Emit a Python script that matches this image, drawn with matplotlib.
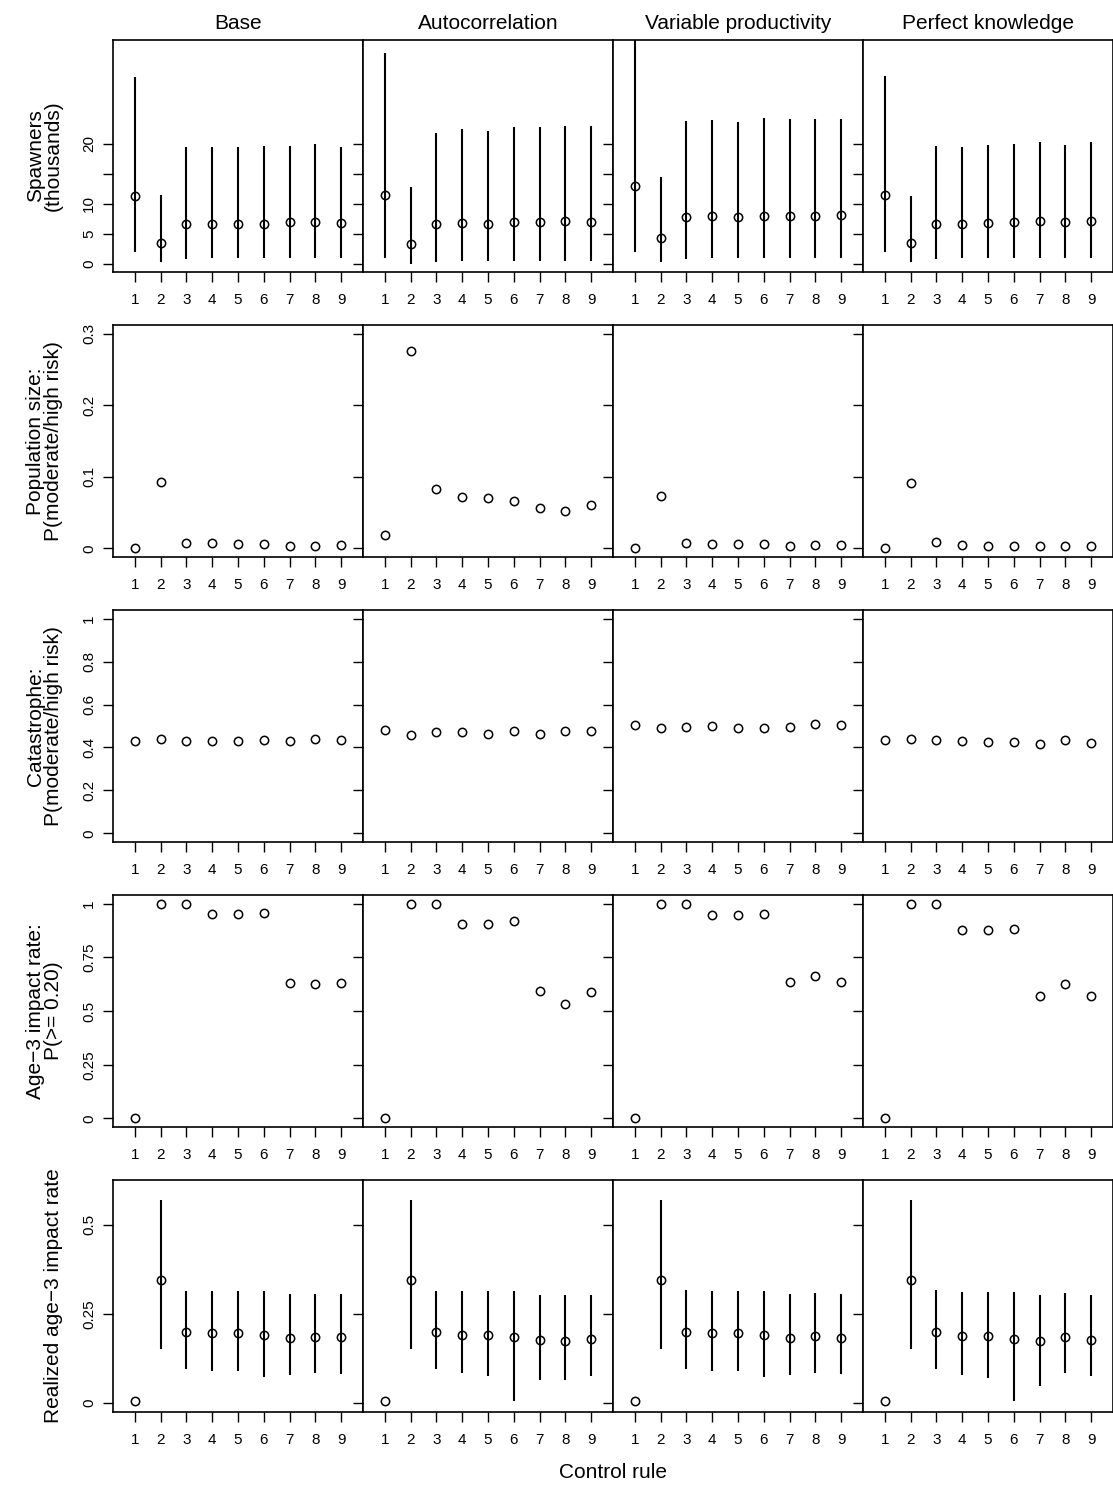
import matplotlib
matplotlib.use('Agg')
import matplotlib.pyplot as plt
import numpy as np

plt.rcParams['font.family'] = ['Liberation Sans', 'DejaVu Sans']

rules = [1, 2, 3, 4, 5, 6, 7, 8, 9]
scenarios = ['Base', 'Autocorrelation', 'Variable productivity', 'Perfect knowledge']

# spawners (thousands): median, lower, upper
spawn_med = [
    [11.3, 3.5, 6.6, 6.7, 6.7, 6.7, 6.9, 6.9, 6.8],
    [11.4, 3.3, 6.6, 6.8, 6.7, 6.9, 7.0, 7.2, 7.0],
    [12.9, 4.3, 7.8, 7.9, 7.8, 7.9, 8.0, 7.9, 8.1],
    [11.5, 3.5, 6.6, 6.7, 6.8, 6.9, 7.1, 6.9, 7.1],
]
spawn_lo = [
    [1.9, 0.3, 0.8, 0.9, 0.9, 0.9, 1.0, 0.9, 0.9],
    [0.9, 0.0, 0.3, 0.4, 0.4, 0.4, 0.4, 0.4, 0.4],
    [1.9, 0.3, 0.8, 0.9, 0.9, 0.9, 0.9, 0.9, 0.9],
    [2.0, 0.3, 0.8, 0.9, 0.9, 0.9, 1.0, 0.9, 1.0],
]
spawn_hi = [
    [31.0, 11.4, 19.4, 19.4, 19.4, 19.6, 19.6, 19.9, 19.4],
    [35.0, 12.7, 21.8, 22.4, 22.0, 22.7, 22.8, 22.9, 22.9],
    [40.0, 14.4, 23.8, 23.9, 23.5, 24.2, 24.0, 24.0, 24.0],
    [31.3, 11.3, 19.6, 19.4, 19.7, 19.9, 20.2, 19.8, 20.3],
]

pop_risk = [
    [0.0, 0.093, 0.007, 0.007, 0.006, 0.006, 0.004, 0.003, 0.005],
    [0.019, 0.276, 0.083, 0.072, 0.070, 0.066, 0.057, 0.052, 0.061],
    [0.001, 0.073, 0.008, 0.006, 0.006, 0.006, 0.004, 0.005, 0.005],
    [0.001, 0.091, 0.009, 0.005, 0.004, 0.003, 0.003, 0.004, 0.003],
]

cat_risk = [
    [0.43, 0.44, 0.43, 0.43, 0.43, 0.435, 0.43, 0.44, 0.435],
    [0.48, 0.46, 0.47, 0.47, 0.465, 0.475, 0.465, 0.475, 0.475],
    [0.505, 0.49, 0.495, 0.50, 0.49, 0.49, 0.495, 0.51, 0.505],
    [0.435, 0.44, 0.435, 0.43, 0.425, 0.425, 0.415, 0.435, 0.42],
]

impact_p = [
    [0.0, 1.0, 1.0, 0.953, 0.953, 0.958, 0.629, 0.624, 0.629],
    [0.0, 1.0, 1.0, 0.907, 0.907, 0.918, 0.591, 0.533, 0.590],
    [0.0, 1.0, 1.0, 0.948, 0.948, 0.951, 0.637, 0.664, 0.637],
    [0.0, 1.0, 1.0, 0.877, 0.877, 0.884, 0.569, 0.626, 0.568],
]

real_med = [
    [0.006, 0.345, 0.199, 0.195, 0.195, 0.192, 0.182, 0.186, 0.184],
    [0.006, 0.345, 0.199, 0.191, 0.191, 0.184, 0.176, 0.173, 0.179],
    [0.007, 0.346, 0.198, 0.196, 0.196, 0.192, 0.183, 0.187, 0.183],
    [0.007, 0.346, 0.198, 0.189, 0.189, 0.180, 0.173, 0.186, 0.176],
]
real_lo = [
    [0.006, 0.152, 0.095, 0.089, 0.090, 0.073, 0.078, 0.084, 0.081],
    [0.006, 0.152, 0.095, 0.083, 0.075, 0.005, 0.064, 0.064, 0.077],
    [0.007, 0.152, 0.096, 0.090, 0.090, 0.072, 0.078, 0.084, 0.081],
    [0.007, 0.152, 0.096, 0.080, 0.071, 0.005, 0.049, 0.084, 0.075],
]
real_hi = [
    [0.006, 0.569, 0.315, 0.315, 0.315, 0.315, 0.306, 0.306, 0.306],
    [0.006, 0.569, 0.315, 0.315, 0.313, 0.315, 0.304, 0.302, 0.304],
    [0.007, 0.569, 0.316, 0.314, 0.314, 0.314, 0.306, 0.308, 0.306],
    [0.007, 0.569, 0.316, 0.312, 0.312, 0.312, 0.303, 0.308, 0.302],
]

row_labels = ['Spawners\n(thousands)',
              'Population size:\nP(moderate/high risk)',
              'Catastrophe:\nP(moderate/high risk)',
              'Age\u22123 impact rate:\nP(>= 0.20)',
              'Realized age\u22123 impact rate']
row_ylim = [(-1.35, 37.2), (-0.012, 0.312), (-0.04, 1.04), (-0.04, 1.04), (-0.025, 0.625)]
row_ticks = [[0, 5, 10, 15, 20], [0, 0.1, 0.2, 0.3], [0, 0.2, 0.4, 0.6, 0.8, 1],
             [0, 0.25, 0.5, 0.75, 1], [0, 0.25, 0.5]]
row_ticklabels = [['0', '5', '10', '', '20'], ['0', '0.1', '0.2', '0.3'],
                  ['0', '0.2', '0.4', '0.6', '0.8', '1'],
                  ['0', '0.25', '0.5', '0.75', '1'], ['0', '0.25', '0.5']]

W, H = 1113, 1490
fig = plt.figure(figsize=(W / 100, H / 100), dpi=100)
left0, colw = 113, 250
top0, rowh, period = 40, 232, 285

for r in range(5):
    for c in range(4):
        x0 = left0 + c * colw
        y0 = top0 + r * period
        ax = fig.add_axes([x0 / W, 1 - (y0 + rowh) / H, colw / W, rowh / H])
        if r == 0:
            ax.vlines(rules, spawn_lo[c], spawn_hi[c], color='black', lw=1.5)
            vals = spawn_med[c]
        elif r == 4:
            ax.vlines(rules, real_lo[c], real_hi[c], color='black', lw=1.5)
            vals = real_med[c]
        else:
            vals = [pop_risk, cat_risk, impact_p][r - 1][c]
        ax.plot(rules, vals, 'o', mfc='none', mec='black', ms=6, mew=1.1)
        ax.set_xlim(0.15, 9.85)
        ax.set_ylim(*row_ylim[r])
        ax.set_xticks(rules)
        ax.set_yticks(row_ticks[r])
        ax.set_yticklabels(row_ticklabels[r] if c == 0 else [])
        ax.tick_params(axis='both', direction='out', length=7, width=1, labelsize=11)
        ax.tick_params(axis='x', pad=8)
        ax.tick_params(axis='y', pad=5)
        for lab in ax.get_yticklabels():
            lab.set_rotation(90)
            lab.set_va('center')
        for s in ax.spines.values():
            s.set_linewidth(1.2)
        if r == 0:
            ax.set_title(scenarios[c], fontsize=15, pad=8)
        if c == 0:
            ax.set_ylabel(row_labels[r], fontsize=15, labelpad=14, linespacing=0.95)

fig.text((left0 + 2 * colw) / W, 1 - 1473 / H, 'Control rule', ha='center', va='center', fontsize=15)
fig.savefig('out.png', dpi=100)
